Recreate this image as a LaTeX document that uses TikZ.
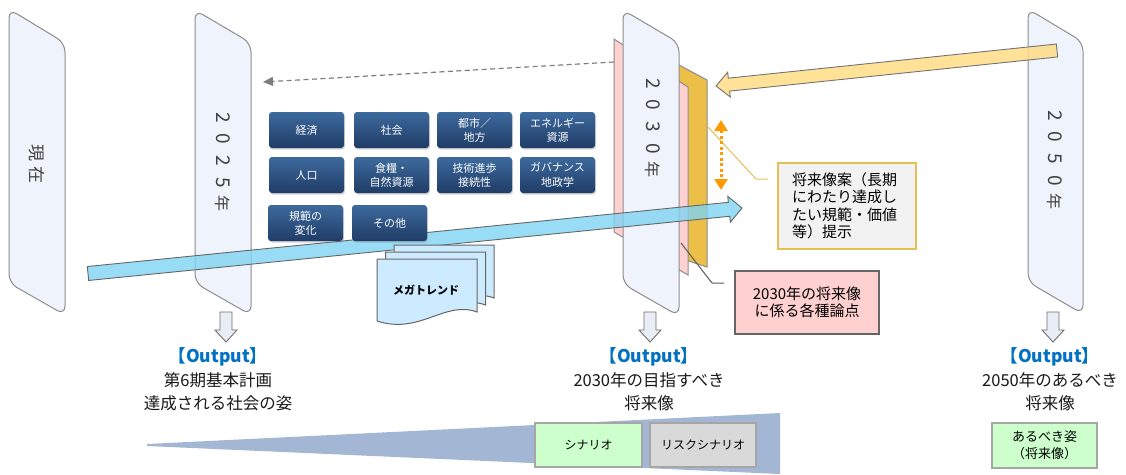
\documentclass[tikz,border=0pt]{standalone}
\usepackage{fontspec}
\setmainfont{Noto Sans CJK JP}
\usetikzlibrary{arrows.meta,shadows,calc}
\definecolor{panelfill}{HTML}{EFF3FB}
\definecolor{panelline}{HTML}{8C8C8C}
\definecolor{paneltxt}{HTML}{404040}
\definecolor{themetop}{HTML}{3D6A9E}
\definecolor{themebot}{HTML}{1F3C66}
\definecolor{docfill}{HTML}{CDEBFF}
\definecolor{docline}{HTML}{666666}
\definecolor{bluearr}{HTML}{7FD3F2}
\definecolor{goldarr}{HTML}{FFDC85}
\definecolor{goldpanel}{HTML}{EBBF48}
\definecolor{goldline}{HTML}{E9BD55}
\definecolor{pinkpanel}{HTML}{FFD0D0}
\definecolor{calloutgray}{HTML}{F2F2F2}
\definecolor{orangearr}{HTML}{FF9A00}
\definecolor{outblue}{HTML}{0070C0}
\definecolor{wedgecol}{HTML}{A3B7D4}
\definecolor{scengreen}{HTML}{CCFFCC}
\definecolor{scengray}{HTML}{D9D9D9}
\definecolor{scenline}{HTML}{A6A6A6}
\definecolor{downfill}{HTML}{E9EDF5}
\definecolor{arrline}{HTML}{6F6F6F}
\newcommand\blockarr[7]{%
  \begin{scope}[shift={#2}, rotate=#3]
    \path[#1] (0,-#5) -- ({#4-#7},-#5) -- ({#4-#7},-#6) -- (#4,0) -- ({#4-#7},#6) -- ({#4-#7},#5) -- (0,#5) -- cycle;
  \end{scope}}
\newcommand\downarr[1]{%
  \path[draw=arrline, fill=downfill, line width=0.9pt] (#1-6,312) -- (#1+6,312) -- (#1+6,330) -- (#1+11,330) -- (#1,342) -- (#1-11,330) -- (#1-6,330) -- cycle;}
\newcommand\dg{\hspace{11pt}}
\newcommand\dn{\hspace{8pt}}
\newcommand\nen{{\fontsize{16}{16}\selectfont 年}}
\begin{document}
\begin{tikzpicture}[x=1pt,y=-1pt,
  panel/.style={draw=panelline, fill=panelfill, line width=1pt, rounded corners=9pt},
  paneltext/.style={rotate=-90, text=paneltxt, font=\fontsize{19}{19}\selectfont, inner sep=0pt},
  theme/.style={rounded corners=3pt, top color=themetop, bottom color=themebot, draw=none, text=white,
    minimum width=75pt, minimum height=36pt, align=center, font=\fontsize{11}{14.3}\selectfont, inner sep=1pt,
    drop shadow={opacity=0.35, shadow xshift=1pt, shadow yshift=-1.5pt}},
  doc/.style={draw=docline, fill=docfill, line width=1pt},
  dasharrow/.style={draw=panelline!90!black, line width=1.2pt, dash pattern=on 5pt off 3.5pt, -{Triangle[length=10pt,width=9pt]}},
  orangedots/.style={draw=orangearr, line width=3pt, dash pattern=on 3pt off 2.5pt, {Triangle[length=11pt,width=13pt]}-{Triangle[length=11pt,width=13pt]}},
  outhead/.style={text=outblue, font=\fontsize{17.5}{20}\selectfont\bfseries, inner sep=0pt},
  outtext/.style={align=center, font=\fontsize{16.5}{23}\selectfont, inner sep=0pt, text=black!90},
  scen/.style={draw=scenline, line width=1.2pt, minimum height=44pt, font=\fontsize{12}{15}\selectfont, inner sep=1pt},
]
\useasboundingbox (0,0) rectangle (1126,474);
% bottom wedge
\fill[wedgecol] (147,444) -- (780,413) -- (780,474) -- (147,446) -- cycle;
% panels
\draw[panel] (9,9) -- (65,43) -- (65,315) -- (9,283) -- cycle;
\node[paneltext, font=\fontsize{17}{17}\selectfont] (genzai) at (37,164) {現\hspace{5pt}在};
\draw[panel] (195,10) -- (251,43) -- (251,315) -- (195,283) -- cycle;
\node[paneltext] (y2025) at (223,162) {2\dg 0\dg 2\dg 5\dn\nen};
\draw[draw=panelline, fill=goldpanel, line width=1pt] (640,44) -- (707,80) -- (707,267) -- (640,245) -- cycle;
\draw[draw=panelline, fill=pinkpanel, line width=1pt] (614,39) -- (688,87) -- (688,275) -- (614,232) -- cycle;
\draw[panel] (623,10) -- (679,43) -- (679,316) -- (623,284) -- cycle;
\node[paneltext] (y2030) at (653,128) {2\dg 0\dg 3\dg 0\dn\nen};
\draw[panel] (1028,9) -- (1083,42) -- (1083,314) -- (1028,282) -- cycle;
\node[paneltext] (y2050) at (1055,160) {2\dg 0\dg 5\dg 0\dn\nen};
% dashed arrow
\coordinate (dashstart) at (614,62);
\coordinate (dashend) at (263,82);
\draw[dasharrow] (dashstart) -- (dashend);
% callout lines
\coordinate (gl0) at (708,127);
\coordinate (gl1) at (756,179);
\coordinate (gl2) at (768,179);
\draw[goldline, line width=1pt] (gl0) -- (gl1) -- (gl2);
\coordinate (pl0) at (681,243);
\coordinate (pl1) at (712,283);
\coordinate (pl2) at (724,283);
\draw[black!65, line width=1pt] (pl0) -- (pl1) -- (pl2);
% blue arrow
\blockarr{draw=black!60, fill=bluearr, fill opacity=0.8, line width=0.9pt}{(88,273.5)}{5.72}{657.3}{7}{13}{13}
% theme boxes
\node[theme] (keizai) at (306.5,130) {経済};
\node[theme] (shakai) at (391.5,130) {社会};
\node[theme] (toshi) at (474.5,130) {都市／\\地方};
\node[theme] (energy) at (557.5,130) {エネルギー\\資源};
\node[theme] (jinko) at (306.5,175) {人口};
\node[theme] (shokuryo) at (391.5,175) {食糧・\\自然資源};
\node[theme] (gijutsu) at (474.5,175) {技術進歩\\接続性};
\node[theme] (governance) at (557.5,175) {ガバナンス\\地政学};
\node[theme] (kihan) at (305.5,223) {規範の\\変化};
\node[theme] (sonota) at (389.5,223) {その他};
% megatrend documents
\foreach \dx/\dy in {17/-14, 8.5/-7, 0/0}{
  \draw[doc, shift={(\dx,\dy)}] (377,259) -- (477,259) -- (477,312) .. controls (445,300) and (420,335) .. (377,321) -- cycle;
}
\node[font=\fontsize{11}{13}\selectfont\bfseries, inner sep=0pt] (mega) at (426,290) {メガトレンド};
% gold arrow
\blockarr{draw=black!55, fill=goldarr, fill opacity=0.85, line width=0.9pt}{(1057,50.5)}{185.94}{342.8}{6.5}{12.5}{13}
% orange dotted double arrow
\coordinate (otop) at (721,120);
\coordinate (obot) at (721,190);
\draw[orangedots] (otop) -- (obot);
% callouts
\node[draw=goldline, fill=calloutgray, line width=1.2pt, minimum width=138pt, minimum height=86pt,
  text width=110pt, align=left, font=\fontsize{15}{17.5}\selectfont, inner sep=0pt] (call1) at (847,206)
  {将来像案（長期\\にわたり達成し\\たい規範・価値\\等）提示};
\node[draw=black!60, fill=pinkpanel, line width=1.2pt, minimum width=144pt, minimum height=63pt,
  align=center, font=\fontsize{15}{17.5}\selectfont, inner sep=0pt] (call2) at (807,302.5)
  {2030年の将来像\\に係る各種論点};
% down arrows
\downarr{226}
\downarr{650}
\downarr{1053}
% outputs
\node[outhead] (oh1) at (218,357) {【Output】};
\node[outtext] (ot1) at (218,391.5) {第6期基本計画\\達成される社会の姿};
\node[outhead] (oh2) at (649,357) {【Output】};
\node[outtext] (ot2) at (649,391.5) {2030年の目指すべき\\将来像};
\node[outhead] (oh3) at (1050,357) {【Output】};
\node[outtext] (ot3) at (1050,391.5) {2050年のあるべき\\将来像};
% scenario boxes
\node[scen, fill=scengreen, minimum width=107pt] (scen1) at (588.5,445) {シナリオ};
\node[scen, fill=scengray, minimum width=106pt] (risk) at (703,445) {リスクシナリオ};
\node[scen, fill=scengreen, minimum width=105pt, minimum height=45pt, align=center,
  font=\fontsize{13}{17}\selectfont] (arubeki) at (1044.5,445.5) {あるべき姿\\（将来像）};
\end{tikzpicture}
\end{document}
